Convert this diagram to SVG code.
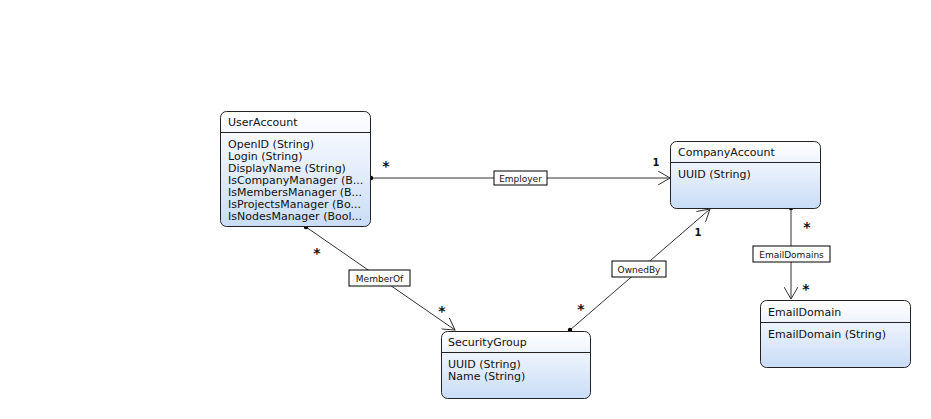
<svg xmlns="http://www.w3.org/2000/svg" width="931" height="419" viewBox="0 0 931 419">
<defs>
<linearGradient id="g" x1="0" y1="0" x2="0" y2="1">
<stop offset="0" stop-color="#ffffff"/>
<stop offset="1" stop-color="#c9dcf7"/>
</linearGradient>
<marker id="arr" markerWidth="14" markerHeight="14" refX="12" refY="7" orient="auto" markerUnits="userSpaceOnUse">
<path d="M0,0 L12,7 L0,14" fill="none" stroke="#333" stroke-width="1"/>
</marker>
<marker id="dot" markerWidth="6" markerHeight="6" refX="3" refY="3" markerUnits="userSpaceOnUse">
<circle cx="3" cy="3" r="2.2" fill="#000"/>
</marker>
</defs>
<style>
.box{fill:url(#g);stroke:#222;stroke-width:1}
.hl{stroke:#222;stroke-width:1}
.t{font-family:"DejaVu Sans",Verdana,sans-serif;font-size:11px;fill:#111}
.c{stroke:#333;stroke-width:1;fill:none}
.lb{fill:#fff;stroke:#000;stroke-width:1}
.lt{font-family:"DejaVu Sans",Verdana,sans-serif;font-size:9px;fill:#111;text-anchor:middle}
.m{font-family:"DejaVu Sans",Verdana,sans-serif;font-size:14px;font-weight:bold;fill:#111;text-anchor:middle}
.n{font-family:"DejaVu Sans",Verdana,sans-serif;font-size:10px;font-weight:bold;fill:#111;text-anchor:middle}
</style>
<rect width="931" height="419" fill="#fff"/>
<g id="connectors">
<g id="employer">
<line class="c" x1="371" y1="178" x2="670" y2="178" marker-start="url(#dot)" marker-end="url(#arr)"/>
<rect class="lb" x="494" y="171" width="53" height="14"/>
<text class="lt" x="520.5" y="181.5">Employer</text>
<text class="m" x="386" y="171">*</text>
<text class="n" x="656" y="166">1</text>
</g>
<g id="memberof">
<line class="c" x1="306" y1="227" x2="455" y2="330" marker-start="url(#dot)" marker-end="url(#arr)"/>
<rect class="lb" x="349" y="270" width="61" height="16"/>
<text class="lt" x="379.5" y="281.5">MemberOf</text>
<text class="m" x="317" y="258">*</text>
<text class="m" x="442" y="316">*</text>
</g>
<g id="ownedby">
<line class="c" x1="570" y1="330" x2="710" y2="209" marker-start="url(#dot)" marker-end="url(#arr)"/>
<rect class="lb" x="612" y="261" width="54" height="16"/>
<text class="lt" x="639" y="272.5">OwnedBy</text>
<text class="m" x="581" y="314">*</text>
<text class="n" x="698" y="236">1</text>
</g>
<g id="emaildomains">
<line class="c" x1="791" y1="208" x2="791" y2="299" marker-start="url(#dot)" marker-end="url(#arr)"/>
<rect class="lb" x="753" y="246" width="77" height="16"/>
<text class="lt" x="791.5" y="257.5">EmailDomains</text>
<text class="m" x="807" y="232">*</text>
<text class="m" x="806" y="294">*</text>
</g>
</g>
<g id="UserAccount">
<rect class="box" x="220.5" y="111.5" width="150" height="115" rx="6"/>
<line class="hl" x1="220.5" y1="132.5" x2="370.5" y2="132.5"/>
<text class="t" x="228" y="126">UserAccount</text>
<text class="t" x="228" y="148">OpenID (String)</text>
<text class="t" x="228" y="160">Login (String)</text>
<text class="t" x="228" y="172">DisplayName (String)</text>
<text class="t" x="228" y="184">IsCompanyManager (B...</text>
<text class="t" x="228" y="196">IsMembersManager (B...</text>
<text class="t" x="228" y="208">IsProjectsManager (Bo...</text>
<text class="t" x="228" y="220">IsNodesManager (Bool...</text>
</g>
<g id="CompanyAccount">
<rect class="box" x="670.5" y="141.5" width="150" height="67" rx="6"/>
<line class="hl" x1="670.5" y1="162.5" x2="820.5" y2="162.5"/>
<text class="t" x="678" y="156">CompanyAccount</text>
<text class="t" x="678" y="178">UUID (String)</text>
</g>
<g id="EmailDomain">
<rect class="box" x="760.5" y="300.5" width="150" height="67" rx="6"/>
<line class="hl" x1="760.5" y1="322.5" x2="910.5" y2="322.5"/>
<text class="t" x="768" y="316">EmailDomain</text>
<text class="t" x="768" y="338">EmailDomain (String)</text>
</g>
<g id="SecurityGroup">
<rect class="box" x="441.5" y="331.5" width="149" height="67" rx="6"/>
<line class="hl" x1="441.5" y1="352.5" x2="590.5" y2="352.5"/>
<text class="t" x="448" y="346">SecurityGroup</text>
<text class="t" x="448" y="368">UUID (String)</text>
<text class="t" x="448" y="380">Name (String)</text>
</g>
</svg>
